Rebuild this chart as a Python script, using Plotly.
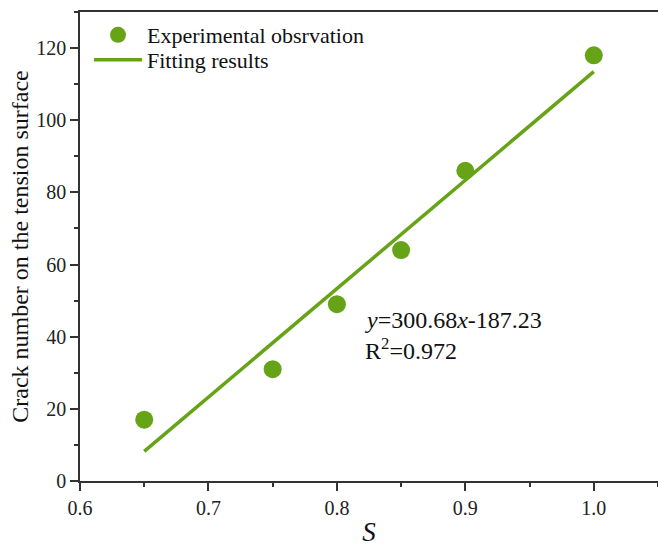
import plotly.graph_objects as go

# Measured crack counts against stress level S
s_obs = [0.65, 0.75, 0.80, 0.85, 0.90, 1.00]
cracks_obs = [17, 31, 49, 64, 86, 118]

# Linear fit parameters
slope = 300.68
intercept = -187.23
s_fit = [0.65, 1.00]
cracks_fit = [slope * s + intercept for s in s_fit]

green = "#66a316"
serif = "Liberation Serif"

fig = go.Figure()
fig.add_trace(go.Scatter(
    x=s_obs, y=cracks_obs, mode="markers",
    name="Experimental obsrvation",
    marker=dict(color=green, size=18, line=dict(width=0)),
    legend="legend",
))
fig.add_trace(go.Scatter(
    x=s_fit, y=cracks_fit, mode="lines",
    name="Fitting results",
    line=dict(color=green, width=3.5),
    legend="legend2",
))

fig.add_annotation(
    x=0.82, y=44.7, xref="x", yref="y", xanchor="left", yanchor="middle",
    text="<i>y</i>=300.68<i>x</i>-187.23", showarrow=False,
    font=dict(family=serif, size=24, color="#111"),
)
fig.add_annotation(
    x=0.82, y=36.6, xref="x", yref="y", xanchor="left", yanchor="middle",
    text="R<sup>2</sup>=0.972", showarrow=False,
    font=dict(family=serif, size=24, color="#111"),
)

axis_common = dict(
    showgrid=False, zeroline=False,
    showline=True, linecolor="#333", linewidth=1.5,
    ticks="outside", ticklen=8, tickwidth=1.5, tickcolor="#333",
    tickfont=dict(family=serif, size=20, color="#222"),
)

fig.update_xaxes(
    **axis_common,
    range=[0.6, 1.05], tick0=0.6, dtick=0.1, tickformat=".1f",
    mirror=True,
    minor=dict(ticks="outside", ticklen=4, tickwidth=1.5, tickcolor="#333", dtick=0.05, tick0=0.6),
    title=dict(text="<i>S</i>", font=dict(family=serif, size=27, color="#111"), standoff=8),
)
fig.update_yaxes(
    **axis_common,
    range=[0, 130], tick0=0, dtick=20,
    minor=dict(ticks="outside", ticklen=4, tickwidth=1.5, tickcolor="#333", dtick=10, tick0=0),
    title=dict(text="Crack number on the tension surface",
               font=dict(family=serif, size=24, color="#111"), standoff=1),
)

legend_style = dict(
    xanchor="left", yanchor="middle",
    font=dict(family=serif, size=22, color="#111"),
    bgcolor="rgba(0,0,0,0)", itemwidth=48,
)

fig.update_layout(
    width=658, height=547,
    margin=dict(l=80, r=0, t=12, b=66),
    paper_bgcolor="white", plot_bgcolor="white",
    showlegend=True,
    legend=dict(x=9 / 578, y=1 - (35 - 12) / 469, **legend_style),
    legend2=dict(x=9 / 578, y=1 - (60 - 12) / 469, **legend_style),
)

fig.write_html("out.html")
